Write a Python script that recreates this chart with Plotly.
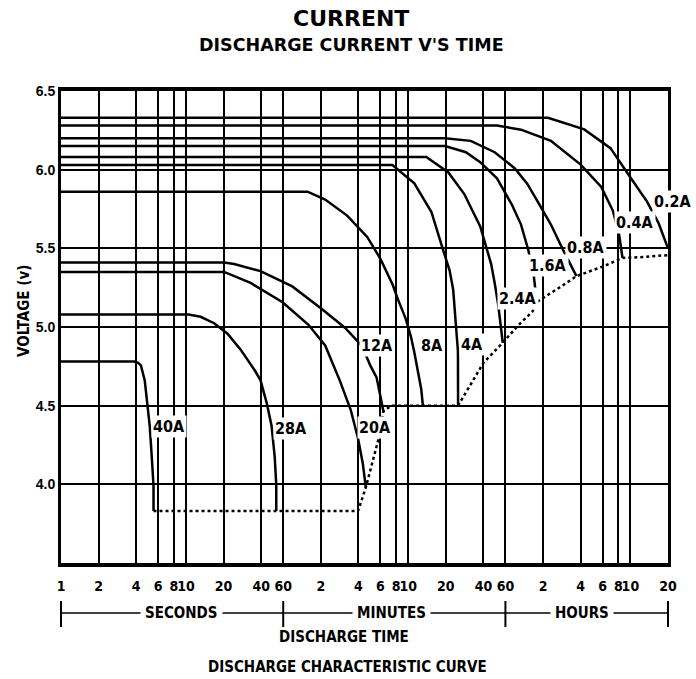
import numpy as np
import plotly.graph_objects as go

# ---------------- data (time in seconds, voltage in volts) ----------------
t_40A = [1, 3.87, 4.14, 4.36, 4.68, 4.9, 5.13, 5.35, 5.5, 5.5]
v_40A = [4.78, 4.78, 4.772, 4.756, 4.66, 4.51, 4.37, 4.15, 3.99, 3.83]

t_28A = [1, 10.5, 13.1, 16.8, 21.5, 27.4, 36.0, 39.5, 44.4, 48.4, 51.3, 52.8, 52.8]
v_28A = [5.08, 5.08, 5.065, 5.024, 4.957, 4.856, 4.717, 4.661, 4.513, 4.373, 4.175, 3.994, 3.83]

t_20A = [1, 20.2, 32.9, 59.3, 95.6, 130, 170, 208, 238, 260, 275]
v_20A = [5.35, 5.35, 5.28, 5.157, 5.014, 4.883, 4.661, 4.474, 4.293, 4.133, 3.98]

t_12A = [1, 20.2, 24.3, 39.5, 70.9, 121.5, 188, 257, 299, 335, 354, 380]
v_12A = [5.41, 5.41, 5.40, 5.355, 5.258, 5.116, 4.994, 4.878, 4.754, 4.68, 4.587, 4.464]

t_8A = [1, 93.9, 130, 195, 283, 360, 451, 496, 572, 631, 672, 721, 763, 787]
v_8A = [5.86, 5.86, 5.81, 5.708, 5.571, 5.433, 5.268, 5.177, 5.055, 4.939, 4.839, 4.717, 4.606, 4.5]

t_4A = [1, 449, 672, 921, 1149, 1287, 1375, 1418, 1457, 1501, 1505]
v_4A = [6.03, 6.03, 5.913, 5.731, 5.482, 5.36, 5.238, 5.116, 5.014, 4.846, 4.5]

t_2_4A = [1, 838, 1259, 1687, 2263, 2769, 2953, 3146, 3283, 3427]
v_2_4A = [6.08, 6.08, 5.982, 5.845, 5.639, 5.40, 5.28, 5.146, 5.024, 4.90]

t_1_6A = [1, 1184, 1738, 2263, 3082, 4078, 4799, 5465, 6023, 6425]
v_1_6A = [6.15, 6.15, 6.111, 6.048, 5.945, 5.774, 5.651, 5.494, 5.348, 5.159]

t_0_8A = [1, 1184, 1899, 2953, 4284, 5375, 6634, 8323, 10534, 12168, 13327]
v_0_8A = [6.20, 6.20, 6.183, 6.111, 6.008, 5.911, 5.788, 5.651, 5.482, 5.39, 5.323]

t_0_4A = [1, 3082, 4799, 8323, 14400, 21050, 26050, 29140, 31130]
v_0_4A = [6.28, 6.28, 6.254, 6.183, 6.032, 5.89, 5.74, 5.596, 5.439]

t_0_2A = [1, 7884, 15380, 24940, 34590, 48780, 60370, 72000]
v_0_2A = [6.33, 6.33, 6.256, 6.137, 5.971, 5.799, 5.662, 5.50]

# end (cut-off) voltage line, dotted
t_cutoff = [5.5, 238, 275, 314.5, 354, 380, 440, 1505, 1899, 2400, 3427, 4572,
            5925, 6425, 9972, 13327, 22550, 31130, 45770, 72000]
v_cutoff = [3.83, 3.83, 3.98, 4.163, 4.313, 4.464, 4.5, 4.5, 4.633, 4.772, 4.90,
            5.012, 5.098, 5.159, 5.256, 5.323, 5.39, 5.439, 5.445, 5.457]

curve_names = ["40A", "28A", "20A", "12A", "8A", "4A", "2.4A", "1.6A", "0.8A", "0.4A", "0.2A"]
curve_t = [t_40A, t_28A, t_20A, t_12A, t_8A, t_4A, t_2_4A, t_1_6A, t_0_8A, t_0_4A, t_0_2A]
curve_v = [v_40A, v_28A, v_20A, v_12A, v_8A, v_4A, v_2_4A, v_1_6A, v_0_8A, v_0_4A, v_0_2A]

# label anchor points (time s, volts)
label_t = [7.3, 68.9, 325, 335, 939, 1932, 4548, 7884, 15860, 39470, 78900]
label_v = [4.367, 4.357, 4.363, 4.883, 4.883, 4.89, 5.181, 5.39, 5.506, 5.667, 5.80]

x_tickvals = [1, 2, 4, 6, 8, 10, 20, 40, 60,
              120, 240, 360, 480, 600, 1200, 2400, 3600,
              7200, 14400, 21600, 28800, 36000, 72000]
x_ticktext = ["1", "2", "4", "6", "8", "10", "20", "40", "60",
              "2", "4", "6", "8", "10", "20", "40", "60",
              "2", "4", "6", "8", "10", "20"]
y_tickvals = [4.0, 4.5, 5.0, 5.5, 6.0, 6.5]
y_ticktext = ["4.0", "4.5", "5.0", "5.5", "6.0", "6.5"]

unit_names = ["SECONDS", "MINUTES", "HOURS"]
unit_bounds = [1, 60, 3600, 72000]

# ---------------- figure ----------------
NARROW = "DejaVu Sans Condensed, Liberation Sans Narrow, sans-serif"
WIDE = "Liberation Sans, Arial, sans-serif"

fig = go.Figure()
for name, t, v in zip(curve_names, curve_t, curve_v):
    fig.add_trace(go.Scatter(x=t, y=v, mode="lines", name=name,
                             line=dict(color="black", width=2.5),
                             showlegend=False, hoverinfo="skip"))
fig.add_trace(go.Scatter(x=t_cutoff, y=v_cutoff, mode="lines", name="cut-off",
                         line=dict(color="black", width=2.5, dash="dot"),
                         showlegend=False, hoverinfo="skip"))

xmax_log = np.log10(72000)

fig.update_xaxes(type="log", range=[0, xmax_log], tickvals=x_tickvals, ticktext=x_ticktext,
                 tickangle=0, automargin=False,
                 showgrid=True, gridcolor="black", gridwidth=2,
                 showline=True, linecolor="black", linewidth=4, mirror=True,
                 ticks="outside", ticklen=7, tickcolor="rgba(0,0,0,0)",
                 tickfont=dict(family=NARROW, size=14, color="black", weight="bold"),
                 zeroline=False, fixedrange=True)
fig.update_yaxes(range=[3.5, 6.5], tickvals=y_tickvals, ticktext=y_ticktext,
                 automargin=False,
                 showgrid=True, gridcolor="black", gridwidth=2,
                 showline=True, linecolor="black", linewidth=3, mirror=True,
                 ticks="", tickfont=dict(family=WIDE, size=14, color="black", weight="bold"),
                 zeroline=False, fixedrange=True)

annotations = []
for name, lt, lv in zip(curve_names, label_t, label_v):
    annotations.append(dict(x=np.log10(lt) / xmax_log, y=lv, xref="paper", yref="y", text=name,
                            xanchor="center", yanchor="middle",
                            showarrow=False, bgcolor="white", borderpad=1,
                            font=dict(family=NARROW, size=16, color="black", weight="bold")))

# paper-coordinate helpers (plot area: 61..668 px wide, 91..563 px tall)
def py(ypx):
    return (563 - ypx) / 472.0

def px(xpx):
    return (xpx - 61) / 607.0

def text_ann(x, y, text, size, family, angle=0):
    return dict(x=x, y=y, xref="paper", yref="paper", text=text, textangle=angle,
                xanchor="center", yanchor="middle", showarrow=False,
                font=dict(family=family, size=size, color="black", weight="bold"))

annotations += [
    text_ann(px(351), py(19), "CURRENT", 22, "DejaVu Sans, sans-serif"),
    text_ann(px(351), py(45), "DISCHARGE CURRENT V'S TIME", 17.5, "DejaVu Sans, sans-serif"),
    text_ann(px(24), py(311), "VOLTAGE (v)", 15, NARROW, -90),
    text_ann(px(344), py(637), "DISCHARGE TIME", 15, NARROW),
    text_ann(px(347), py(667), "DISCHARGE CHARACTERISTIC CURVE", 15, NARROW),
]

shapes = []
bracket_y = py(613)
b_lo, b_hi = py(601), py(627)
fr = [np.log10(b) / xmax_log for b in unit_bounds]
shapes.append(dict(type="line", xref="paper", yref="paper", x0=fr[0], x1=fr[-1],
                   y0=bracket_y, y1=bracket_y, line=dict(color="black", width=1.5)))
for f in fr:
    shapes.append(dict(type="line", xref="paper", yref="paper", x0=f, x1=f,
                       y0=b_lo, y1=b_hi, line=dict(color="black", width=2)))
unit_centers = [px(181), px(391), px(582)]
for name, c in zip(unit_names, unit_centers):
    a = text_ann(c, bracket_y, name, 15, NARROW)
    a.update(bgcolor="white", borderpad=4)
    annotations.append(a)

fig.update_layout(width=696, height=679, autosize=False,
                  margin=dict(l=61, r=28, t=91, b=116, autoexpand=False),
                  paper_bgcolor="white", plot_bgcolor="white",
                  annotations=annotations, shapes=shapes, showlegend=False)

fig.write_html("out.html", config={"displayModeBar": False},
               post_script="document.body.style.margin='0px';")
